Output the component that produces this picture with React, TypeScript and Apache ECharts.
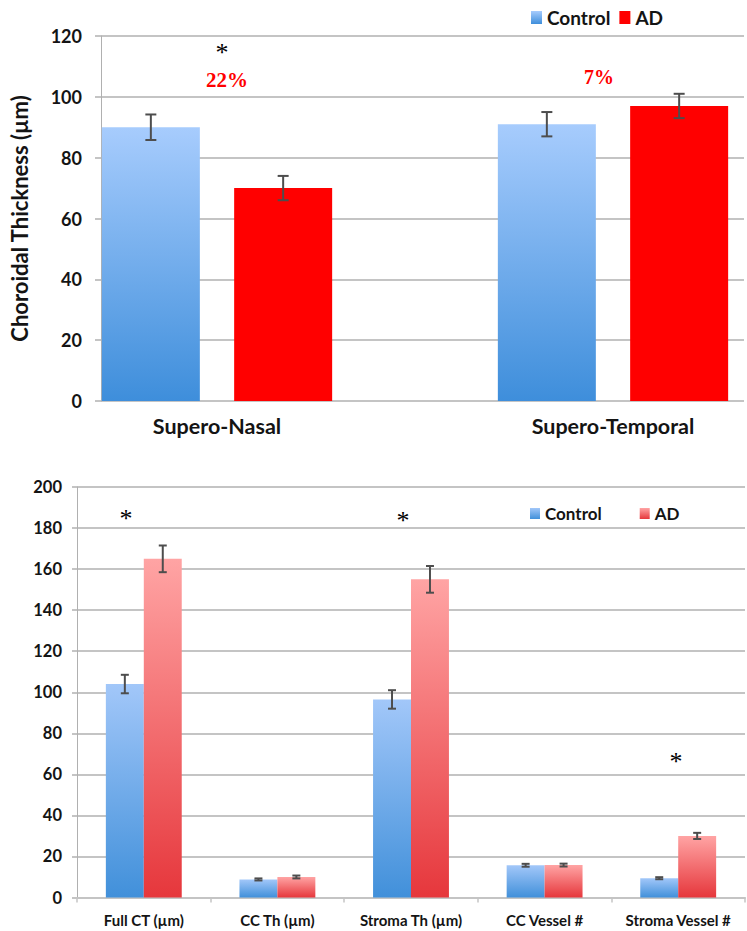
import React, { useEffect, useRef } from "react";
import * as echarts from "echarts";

// ---- Top chart data ----
const topCategories = ["Supero-Nasal", "Supero-Temporal"];
const topControl = [90, 91];
const topAD = [70, 97];
const topControlErr = [4.2, 4];
const topADErr = [4, 4];
const topYTicks = [0, 120, 20]; // min, max, interval

// ---- Bottom chart data ----
const botCategories = ["Full CT (µm)", "CC Th (µm)", "Stroma Th (µm)", "CC Vessel #", "Stroma Vessel #"];
const botControl = [104, 8.8, 96.5, 15.7, 9.4];
const botAD = [165, 10, 155, 15.8, 30];
const botControlErr = [4.5, 0.5, 4.5, 0.7, 0.5];
const botADErr = [6.5, 0.7, 6.5, 0.7, 1.5];
const botYTicks = [0, 200, 20];

const seriesNames = ["Control", "AD"];

const FONT = "Lato";
const TXT = "#141414";
const GRID = "#c4c4c4";
const ERR = "#4d4d4d";

const topBlue = new echarts.graphic.LinearGradient(0, 0, 0, 1, [
  { offset: 0, color: "#a7ccfd" },
  { offset: 1, color: "#3e8edb" },
]);
const topRed = "#ff0000";
const botBlue = new echarts.graphic.LinearGradient(0, 0, 0, 1, [
  { offset: 0, color: "#a2c7f9" },
  { offset: 1, color: "#4190da" },
]);
const botRed = new echarts.graphic.LinearGradient(0, 0, 0, 1, [
  { offset: 0, color: "#ffa4a4" },
  { offset: 1, color: "#e6373c" },
]);

function errData(vals: number[], errs: number[], side: number) {
  return vals.map((v, i) => [i, v, errs[i], side]);
}

function makeErrRender(offsetFn: (band: number) => number, cap: number, lw: number) {
  return (params: any, api: any) => {
    const cat = api.value(0);
    const v = api.value(1);
    const e = api.value(2);
    const side = api.value(3);
    const band = api.size([1, 0])[0];
    const off = side * offsetFn(band);
    const top = api.coord([cat, v + e]);
    const bot = api.coord([cat, v - e]);
    const x = top[0] + off;
    const style = { stroke: ERR, lineWidth: lw };
    return {
      type: "group",
      children: [
        { type: "line", shape: { x1: x, y1: top[1], x2: x, y2: bot[1] }, style },
        { type: "line", shape: { x1: x - cap / 2, y1: top[1], x2: x + cap / 2, y2: top[1] }, style },
        { type: "line", shape: { x1: x - cap / 2, y1: bot[1], x2: x + cap / 2, y2: bot[1] }, style },
      ],
    };
  };
}

const starStyle = (x: number, y: number) => ({
  type: "text",
  x,
  y,
  style: { text: "*", font: "26px 'Liberation Serif'", fill: "#000", align: "center", verticalAlign: "middle" },
});

export default function App() {
  const ref = useRef<HTMLDivElement>(null);
  useEffect(() => {
    if (!ref.current) return;
    const chart = echarts.init(ref.current, undefined, { renderer: "svg" });
    const TOP_BAR_W = 98;
    const TOP_GAP = 0.35;
    const option: any = {
      animation: false,
      backgroundColor: "#ffffff",
      textStyle: { fontFamily: FONT },
      legend: [
        {
          left: 526,
          top: 3,
          itemWidth: 11,
          itemHeight: 13,
          itemGap: 9,
          icon: "rect",
          textStyle: { fontFamily: FONT, fontWeight: "bold", fontSize: 19, color: TXT },
          data: [
            { name: "Control", itemStyle: { color: topBlue } },
            { name: "AD", itemStyle: { color: topRed } },
          ],
          selectedMode: false,
        },
        {
          left: 525,
          top: 500,
          itemWidth: 10,
          itemHeight: 11,
          itemGap: 38,
          icon: "rect",
          textStyle: { fontFamily: FONT, fontWeight: "bold", fontSize: 17, color: TXT },
          data: [
            { name: "Control", itemStyle: { color: botBlue } },
            { name: "AD", itemStyle: { color: botRed } },
          ],
          selectedMode: false,
        },
      ],
      grid: [
        { left: 89, right: 3, top: 36, bottom: 530 },
        { left: 217, right: 134, top: 36, bottom: 530 },
        { left: 77, right: 2, top: 487, bottom: 33.5 },
      ],
      xAxis: [
        {
          gridIndex: 0,
          type: "category",
          data: [""],
          axisLine: { show: false },
          axisTick: { show: false },
          axisLabel: { show: false },
        },
        {
          gridIndex: 1,
          type: "category",
          boundaryGap: false,
          data: topCategories,
          axisLine: { show: false },
          axisTick: { show: false },
          axisLabel: { interval: 0, margin: 14, fontFamily: FONT, fontWeight: "bold", fontSize: 21.5, color: TXT },
        },
        {
          gridIndex: 2,
          type: "category",
          data: botCategories,
          axisLine: { show: true, lineStyle: { color: GRID, width: 2 } },
          axisTick: { show: true, interval: 0, length: 5, lineStyle: { color: GRID, width: 1.5 } },
          axisLabel: { interval: 0, hideOverlap: false, margin: 15, fontFamily: FONT, fontWeight: "bold", fontSize: 15, color: TXT },
        },
      ],
      yAxis: [
        {
          gridIndex: 0,
          type: "value",
          min: topYTicks[0],
          max: topYTicks[1],
          interval: topYTicks[2],
          axisLine: { show: true, lineStyle: { color: "#b0b0b0", width: 1 } },
          axisTick: { show: true, length: 6, lineStyle: { color: GRID, width: 2 } },
          splitLine: { show: true, lineStyle: { color: GRID, width: 2 } },
          axisLabel: { margin: 19, fontFamily: FONT, fontWeight: "bold", fontSize: 18, color: TXT },
          name: "Choroidal Thickness (µm)",
          nameLocation: "middle",
          nameRotate: 90,
          nameGap: 71,
          nameTextStyle: { fontFamily: FONT, fontWeight: "bold", fontSize: 22, color: TXT },
        },
        {
          gridIndex: 1,
          type: "value",
          min: topYTicks[0],
          max: topYTicks[1],
          interval: topYTicks[2],
          show: false,
        },
        {
          gridIndex: 2,
          type: "value",
          min: botYTicks[0],
          max: botYTicks[1],
          interval: botYTicks[2],
          axisLine: { show: true, lineStyle: { color: "#b0b0b0", width: 1 } },
          axisTick: { show: true, length: 5, lineStyle: { color: GRID, width: 2 } },
          splitLine: { show: true, lineStyle: { color: GRID, width: 2 } },
          axisLabel: { margin: 15, fontFamily: FONT, fontWeight: "bold", fontSize: 16.5, color: TXT },
        },
      ],
      series: [
        {
          name: seriesNames[0],
          type: "bar",
          xAxisIndex: 1,
          yAxisIndex: 1,
          clip: false,
          barWidth: TOP_BAR_W,
          barGap: TOP_GAP * 100 + "%",
          itemStyle: { color: topBlue },
          data: topControl,
        },
        {
          name: seriesNames[1],
          type: "bar",
          xAxisIndex: 1,
          yAxisIndex: 1,
          clip: false,
          barWidth: TOP_BAR_W,
          barGap: TOP_GAP * 100 + "%",
          itemStyle: { color: topRed },
          data: topAD,
        },
        {
          type: "custom",
          xAxisIndex: 1,
          yAxisIndex: 1,
          clip: false,
          z: 5,
          renderItem: makeErrRender(() => (TOP_BAR_W * (1 + TOP_GAP)) / 2, 11, 2),
          data: [...errData(topControl, topControlErr, -1), ...errData(topAD, topADErr, 1)],
        },
        {
          name: seriesNames[0],
          type: "bar",
          xAxisIndex: 2,
          yAxisIndex: 2,
          barWidth: "28.4%",
          barGap: "0%",
          itemStyle: { color: botBlue },
          data: botControl,
        },
        {
          name: seriesNames[1],
          type: "bar",
          xAxisIndex: 2,
          yAxisIndex: 2,
          barWidth: "28.4%",
          barGap: "0%",
          itemStyle: { color: botRed },
          data: botAD,
        },
        {
          type: "custom",
          xAxisIndex: 2,
          yAxisIndex: 2,
          clip: false,
          z: 5,
          renderItem: makeErrRender((band) => band * 0.142, 8, 2),
          data: [...errData(botControl, botControlErr, -1), ...errData(botAD, botADErr, 1)],
        },
      ],
      graphic: [
        starStyle(222, 52),
        { type: "text", x: 227, y: 80, style: { text: "22%", font: "bold 21px 'Liberation Serif'", fill: "#ff0000", align: "center", verticalAlign: "middle" } },
        { type: "text", x: 599, y: 77, style: { text: "7%", font: "bold 20px 'Liberation Serif'", fill: "#ff0000", align: "center", verticalAlign: "middle" } },
        starStyle(126, 518),
        starStyle(403, 520),
        starStyle(676, 761),
      ],
    };
    chart.setOption(option);
    return () => chart.dispose();
  }, []);
  return <div ref={ref} style={{ position: "fixed", left: 0, top: 0, width: 747, height: 931 }} />;
}
